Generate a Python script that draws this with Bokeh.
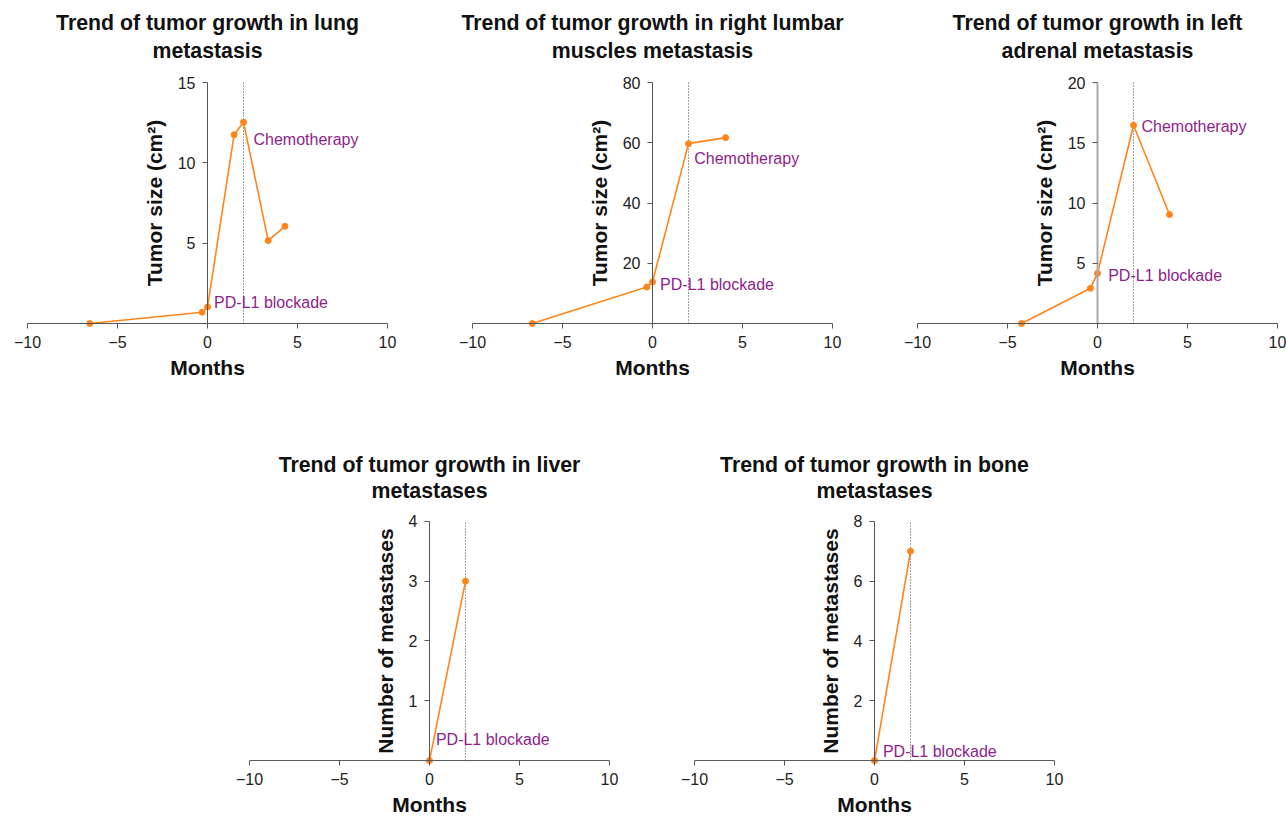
from bokeh.plotting import figure
from bokeh.models import Range1d, FixedTicker, Span, Label, Spacer, Title
from bokeh.layouts import row, column
from bokeh.embed import file_html
from bokeh.resources import INLINE

# ---------------- data ----------------
lung_months = [-6.54, -0.30, 0.0, 1.48, 2.0, 3.37, 4.30]
lung_size = [0.0, 0.70, 1.03, 11.75, 12.53, 5.16, 6.05]

lumbar_months = [-6.68, -0.32, 0.0, 2.0, 4.06]
lumbar_size = [0.0, 12.1, 13.8, 59.7, 61.7]

adrenal_months = [-4.22, -0.39, 0.0, 2.0, 4.0]
adrenal_size = [0.0, 2.92, 4.16, 16.45, 9.04]

liver_months = [0.0, 2.0]
liver_count = [0, 3]

bone_months = [0.0, 2.0]
bone_count = [0, 7]

x_ticks = [-10, -5, 0, 5, 10]
x_tick_labels = {-10: "\u221210", -5: "\u22125", 0: "0", 5: "5", 10: "10"}
chemo_month = 2

titles = [
    ("Trend of tumor growth in lung", "metastasis"),
    ("Trend of tumor growth in right lumbar", "muscles metastasis"),
    ("Trend of tumor growth in left", "adrenal metastasis"),
    ("Trend of tumor growth in liver", "metastases"),
    ("Trend of tumor growth in bone", "metastases"),
]

ORANGE = "#FF8419"
PURPLE = "#8E1E8C"
AXIS = "#555555"
FONT = "Liberation Sans"

PAD_TOP = 10   # px of frame above the top tick
PAD_BOT = 5    # px of frame below zero


def make_panel(title, months, values, ytop, yticks, ylabel, width, right_border,
               top_border, frame_h, bottom_border, pd_off, chemo_off=None,
               yaxis_color=AXIS, yaxis_width=1, inner_gap=19, outer_gap=-15):
    plot_px = frame_h - PAD_TOP - PAD_BOT
    upp = ytop / plot_px
    height = top_border + frame_h + bottom_border
    p = figure(width=width, height=height, output_backend="svg",
               toolbar_location=None, min_border_left=27,
               min_border_right=right_border, min_border_top=top_border,
               min_border_bottom=bottom_border,
               x_range=Range1d(-10, 10),
               y_range=Range1d(-PAD_BOT * upp, ytop + PAD_TOP * upp))
    p.outline_line_color = None
    p.grid.visible = False
    p.background_fill_color = "white"
    p.border_fill_color = "white"

    # two centred title lines
    p.title.text = title[0]
    p.title.align = "center"
    p.title.text_font = FONT
    p.title.text_font_size = "21.3px"
    p.title.text_font_style = "bold"
    p.title.text_color = "#111111"
    p.title.standoff = outer_gap
    p.add_layout(Title(text=title[1], align="center", text_font=FONT,
                       text_font_size="21.3px", text_font_style="bold",
                       text_color="#111111", standoff=inner_gap), "above")

    # x axis: normal bottom axis, its line drawn at y = 0
    xa = p.xaxis[0]
    xa.ticker = FixedTicker(ticks=x_ticks)
    xa.major_label_overrides = x_tick_labels
    xa.axis_line_color = None
    xa.major_tick_in = PAD_BOT
    xa.major_tick_out = 0
    xa.major_tick_line_color = AXIS
    xa.minor_tick_line_color = None
    xa.major_label_text_font = FONT
    xa.major_label_text_font_size = "16px"
    xa.major_label_text_color = "#222222"
    xa.major_label_standoff = 7
    xa.axis_label = "Months"
    xa.axis_label_text_font = FONT
    xa.axis_label_text_font_size = "21px"
    xa.axis_label_text_font_style = "bold"
    xa.axis_label_text_color = "#111111"
    xa.axis_label_standoff = 5
    p.add_layout(Span(location=0, dimension="width", line_color=AXIS, line_width=1))

    # y axis sits at x = 0
    ya = p.yaxis[0]
    ya.fixed_location = 0
    ya.ticker = FixedTicker(ticks=yticks)
    ya.bounds = (0, ytop)
    ya.axis_line_color = yaxis_color
    ya.axis_line_width = yaxis_width
    ya.major_tick_in = 0
    ya.major_tick_out = 5
    ya.major_tick_line_color = AXIS
    ya.minor_tick_line_color = None
    ya.major_label_text_font = FONT
    ya.major_label_text_font_size = "16px"
    ya.major_label_text_color = "#222222"
    ya.major_label_standoff = 7
    ya.axis_label = ylabel
    ya.axis_label_text_font = FONT
    ya.axis_label_text_font_size = "21px"
    ya.axis_label_text_font_style = "bold"
    ya.axis_label_text_color = "#111111"
    ya.axis_label_standoff = 9

    # chemotherapy marker line
    p.segment(x0=[chemo_month], y0=[0], x1=[chemo_month], y1=[ytop],
              line_color="#444444", line_width=1, line_dash="1 2")

    p.line(months, values, line_color=ORANGE, line_width=1.6)
    p.scatter(months, values, size=6, fill_color=ORANGE, line_color=ORANGE)

    i0 = months.index(0.0)
    p.add_layout(Label(x=0, y=values[i0], x_offset=pd_off[0], y_offset=pd_off[1],
                       text="PD-L1 blockade", text_font=FONT, text_font_size="16px",
                       text_color=PURPLE, text_baseline="middle", text_align="left"))
    if chemo_off is not None:
        i2 = months.index(float(chemo_month))
        p.add_layout(Label(x=chemo_month, y=values[i2], x_offset=chemo_off[0],
                           y_offset=chemo_off[1], text="Chemotherapy", text_font=FONT,
                           text_font_size="16px", text_color=PURPLE,
                           text_baseline="middle", text_align="left"))
    return p


TOP1, FH1, BOT1 = 72, 256, 112
TOP2, FH2, BOT2 = 71, 257, 50
size_label = "Tumor size (cm\u00b2)"
count_label = "Number of metastases"

p1 = make_panel(titles[0], lung_months, lung_size, 15, [5, 10, 15], size_label,
                445, 58, TOP1, FH1, BOT1, (6.6, 4.4), (10, -17.6))
p2 = make_panel(titles[1], lumbar_months, lumbar_size, 80, [20, 40, 60, 80], size_label,
                445, 58, TOP1, FH1, BOT1, (7.6, -2.7), (5.7, -14.6))
p3 = make_panel(titles[2], adrenal_months, adrenal_size, 20, [5, 10, 15, 20], size_label,
                396, 9, TOP1, FH1, BOT1, (10.7, -1.7), (8, -1.4),
                yaxis_color="#AAAAAA", yaxis_width=2)
p4 = make_panel(titles[3], liver_months, liver_count, 4, [1, 2, 3, 4], count_label,
                445, 58, TOP2, FH2, BOT2, (6.4, 21), inner_gap=18, outer_gap=-18)
p5 = make_panel(titles[4], bone_months, bone_count, 8, [2, 4, 6, 8], count_label,
                445, 58, TOP2, FH2, BOT2, (8.4, 9.3), inner_gap=18, outer_gap=-18)

layout = column(row(p1, p2, p3), row(Spacer(width=222), p4, p5))

open("out.html", "w").write(file_html(layout, INLINE))
